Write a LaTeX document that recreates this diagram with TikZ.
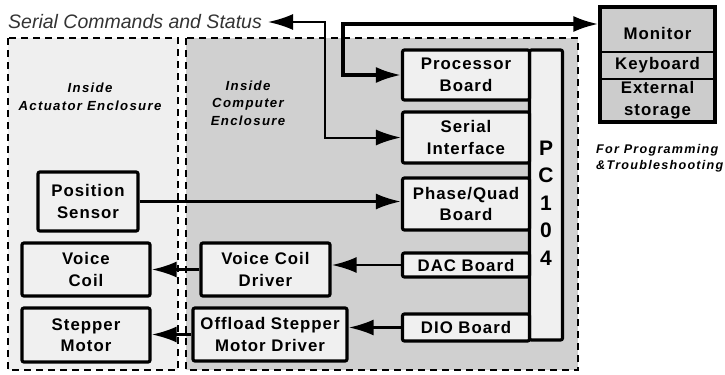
\documentclass[tikz,border=0pt]{standalone}
\usepackage{fontspec}
\setmainfont{Liberation Sans}
\newfontfamily\boxfam{Liberation Sans}[LetterSpace=6]
\newfontfamily\notefam{Liberation Sans}[LetterSpace=10]
\usetikzlibrary{arrows.meta}
\definecolor{ink}{HTML}{000000}
\definecolor{ink2}{HTML}{333333}
\definecolor{actbg}{HTML}{EFEFEF}
\definecolor{cmpbg}{HTML}{D0D0D0}
\definecolor{boxfill}{HTML}{F0F0F0}
\definecolor{monfill}{HTML}{CCCCCC}
\newcommand\boxfont{\boxfam\bfseries\fontsize{16.8bp}{21.5bp}\selectfont}
\newcommand\notefont{\notefam\bfseries\itshape\fontsize{13.2bp}{17.5bp}\selectfont}

\begin{document}
\begin{tikzpicture}[x=1bp,y=-1bp,
  box/.style={draw=ink,line width=3.2bp,fill=boxfill,rounded corners=2bp,
    align=center,font=\boxfont,inner sep=0pt},
  link/.style={ink,line width=2.8bp,-{Latex[length=25bp,width=16bp]}},
  twoway/.style={ink,{Latex[length=25bp,width=16bp]}-{Latex[length=25bp,width=16bp]}},
  encl/.style={draw=ink,line width=2bp,dash pattern=on 7bp off 5bp},
  note/.style={font=\notefont,align=center}]
  \useasboundingbox (0,0) rectangle (725,374);
  % enclosures
  \filldraw[encl,fill=actbg] (8,38) rectangle (178,370);
  \filldraw[encl,fill=cmpbg] (186,38) rectangle (578,370);
  \node[note] (actlbl) at (90,97) {Inside\\Actuator Enclosure};
  \node[note] (cmplbl) at (248,103) {Inside\\Computer\\Enclosure};
  % boards along the PC104 stack
  \node[box,minimum width=33bp,minimum height=290bp] (pc) at (546,195) {};
  \node[font=\bfseries\fontsize{21bp}{27.5bp}\selectfont,align=center] (pclbl) at (546,203) {P\\C\\1\\0\\4};
  \foreach \name/\y/\h/\txt in {proc/75/50/{Processor\\Board},
      serial/137.5/51/{Serial\\Interface},
      phase/204/52/{Phase/Quad\\Board},
      dac/265/24/{DAC Board},
      dio/327.5/27/{DIO Board}}
    \node[box,minimum width=127bp,minimum height=\h bp] (\name) at (466,\y) {\txt};
  % actuator side
  \node[box,minimum width=100bp,minimum height=59bp] (pos) at (88,201.5) {Position\\Sensor};
  \node[box,minimum width=128bp,minimum height=53bp] (vcoil) at (86,269.5) {Voice\\Coil};
  \node[box,minimum width=128bp,minimum height=54bp] (stepper) at (86,335) {Stepper\\Motor};
  \node[box,minimum width=129bp,minimum height=53bp] (vcd) at (265.5,269.5) {Voice Coil\\Driver};
  \node[box,minimum width=154bp,minimum height=53bp] (offload) at (270,334.5) {Offload Stepper\\Motor Driver};
  % monitor
  \node[box,fill=monfill,rounded corners=0pt,minimum width=115bp,minimum height=115bp] (mon) at (657.5,64.5) {};
  \node[font=\boxfont] (montxt) at (657.5,33) {Monitor};
  \node[font=\boxfont] (keytxt) at (657.5,65.5) {Keyboard};
  \node[font=\boxfont,align=center] (extxt) at (657.5,100) {External\\storage};
  \draw[ink,line width=2bp] (mon.west |- 0,52) -- (mon.east |- 0,52);
  \draw[ink,line width=2bp] (mon.west |- 0,79) -- (mon.east |- 0,79);
  \node[note,align=left,anchor=north west,inner sep=0pt,
    font=\notefam\bfseries\itshape\fontsize{12.6bp}{16.5bp}\selectfont] (prog) at (596,144) {For Programming\\\&Troubleshooting};
  % title and links
  \node[font=\itshape\fontsize{19.5bp}{22bp}\selectfont,text=ink2,anchor=west,inner sep=0pt] (title) at (8,22) {Serial Commands and Status};
  \coordinate (ser) at (325,22);
  \coordinate (bus) at (343,24);
  \draw[twoway,line width=2bp] (title.east) ++(6,0) coordinate (tend) (tend) -- (ser) |- (serial.west);
  \draw[twoway,line width=3.2bp] (proc.west) -| (bus) -- (bus -| mon.west);
  \draw[link] (pos.east) -- (pos.east -| phase.west);
  \foreach \a/\b in {dac/vcd, vcd/vcoil, dio/offload, offload/stepper}
    \draw[link] (\a.west) -- (\a.west -| \b.east);
\end{tikzpicture}
\end{document}
